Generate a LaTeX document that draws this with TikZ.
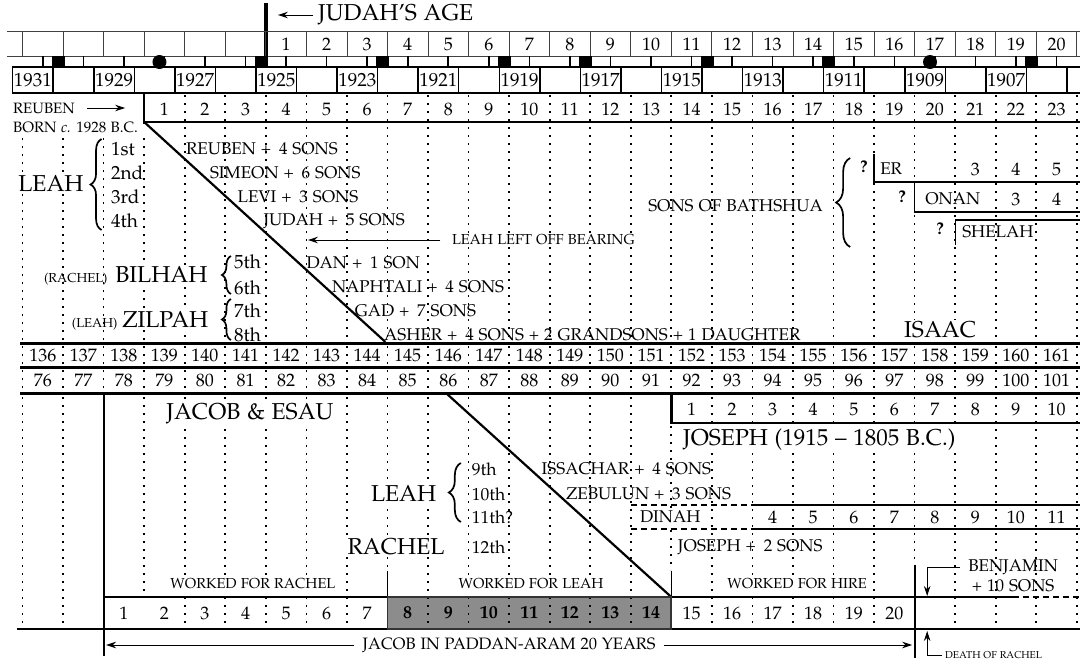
\documentclass[tikz,border=0pt]{standalone}
\usepackage[T1]{fontenc}
\usepackage[sc]{mathpazo}
\usepackage{tikz}
\usetikzlibrary{positioning,arrows.meta,decorations.pathreplacing}

\newcommand{\fs}[1]{\fontsize{#1}{#1}\selectfont}

\tikzset{
  dotcol/.style={line width=1.7pt, dash pattern=on 1.7pt off 6.3pt},
  rule/.style={line width=3pt},
  hair/.style={line width=0.8pt, black!75},
  yearbox/.style={draw, line width=1.5pt},
  arr/.style={-{Stealth[length=10pt,width=6.5pt]}, line width=0.9pt},
  num/.style={inner sep=0pt, font={\fs{18}}},
  kid/.style={inner sep=0pt, anchor=west, font={\fs{17}}},
  ord/.style={inner sep=0pt, anchor=west, font={\fs{19}}},
  big/.style={inner sep=1.5pt, fill=white, font={\fs{23}}},
  small/.style={inner sep=1.5pt, fill=white, font={\fs{14.5}}},
  query/.style={inner sep=0pt, font={\fs{17}\bfseries}},
  curly/.style={decorate, decoration={brace, amplitude=#1}, line width=1.7pt},
}

\begin{document}
\begin{tikzpicture}[x=40.55pt, y=-1pt]

    \useasboundingbox (-0.5549,0) rectangle (26.0789,664);

    % gray years (filled first, dots go over it)
    \fill[black!45] (9,597) rectangle (16,629);

    % column guides
    \foreach \k in {0,...,3}
        \draw[dotcol] (\k,138) -- (\k,341);
    \foreach \k in {4,...,26}
        \draw[dotcol] (\k,95) -- (\k,341);
    \foreach \k in {0,...,26}
        \draw[dotcol] (\k,346) -- (\k,391);
    \foreach \k in {0,1,4,5,6,7,8,10,11,12,13,14,15,17,18,19,20,21,23,24,25,26}
        \draw[dotcol] (\k,397) -- (\k,628);
    \draw[dotcol] (3,397) -- (3,595);
    \draw[dotcol] (9,397) -- (9,570);
    \draw[dotcol] (16,426) -- (16,570);
    \draw[dotcol] (22,397) -- (22,564);

    % judah's age
    \draw[line width=4.5pt] (6,3) -- (6,67);
    \node[big, fill=none, anchor=west] (judah) at (7.25,15) {JUDAH'S AGE};
    \coordinate (judahtip) at (6.3,15);
    \draw[arr] ([xshift=-3pt]judah.west) -- (judahtip);

    \draw[hair] (-0.38,31) -- (26.1,31) (-0.38,56) -- (26.1,56);
    \foreach \k in {0,...,26}
        \draw[hair] (\k,31) -- (\k,56);
    \foreach \n in {1,...,20}
        \node[num] (age\n) at (\n+5.5,44) {\n};

    % ticks, squares and moons
    \foreach \k in {0,...,25}
        \draw[line width=1.6pt] (\k+0.5,56) -- (\k+0.5,66);
    \foreach \k in {1,6,9,12,14,17,20,25}
        \fill (\k-0.276,56) rectangle (\k+0.044,67);
    \fill (3.378,62) circle (7pt);
    \fill (22.38,62) circle (7pt);

    % years b.c.
    \foreach \j in {0,...,26}
        \draw[yearbox] (\j-0.242,67) rectangle (\j+0.758,93);
    \foreach \j [evaluate=\j as \yr using int(1931-\j)] in {0,2,...,24}
        \node[inner sep=0pt, font={\fs{19}}] (yr\j) at (\j+0.258,80) {\yr};

    % reuben's age
    \node[inner sep=0pt, anchor=west, font={\fs{15}}] (reuben) at (-0.234,108) {REUBEN};
    \coordinate (reubentip) at (2.53,108);
    \draw[arr] ([xshift=12pt]reuben.east) -- (reubentip);
    \node[inner sep=0pt, anchor=west, font={\fs{15}}] (born) at (-0.234,127) {BORN \textit{c.} 1928 B.C.};
    \foreach \n in {1,...,23}
        \node[num] (rb\n) at (\n+2.5,109) {\n};
    \draw[line width=2pt] (3,93) -- (3,124);
    \draw[line width=1.2pt] (3,122) -- (26.1,122);

    % first eight sons
    \draw[line width=2.2pt] (3,122) -- (8.95,342);
    \node[big] (leah) at (0.703,184) {LEAH};
    \draw[curly=11pt] (1.95,230) -- (1.95,139);
    \node[ord] (o1) at (2.18,149) {1st};
    \node[ord] (o2) at (2.18,173) {2nd};
    \node[ord] (o3) at (2.18,197) {3rd};
    \node[ord] (o4) at (2.18,221) {4th};
    \node[kid] (reubenk) at (4.03,149) {REUBEN + \,4 SONS};
    \node[kid] (simeon) at (4.62,173) {SIMEON + \,6 SONS};
    \node[kid] (levi) at (5.30,197) {LEVI + \,3 SONS};
    \node[kid] (judahk) at (5.94,221) {JUDAH + \,5 SONS};

    \node[small, anchor=west] (leftoff) at (10.55,240) {LEAH LEFT OFF BEARING};
    \coordinate (leftofftip) at (7.04,240);
    \draw[arr] ([xshift=-10pt]leftoff.west) -- (leftofftip);

    \node[big, anchor=west] (bilhah) at (2.25,275) {BILHAH};
    \node[inner sep=0pt, anchor=base east, font={\fs{13}}] (rachelmaid) at ([xshift=-6pt]bilhah.base west) {(RACHEL)};
    \draw[curly=9pt] (5.14,294) -- (5.14,256);
    \node[ord] (o5) at (5.215,262) {5th};
    \node[ord] (o6) at (5.215,288) {6th};
    \node[kid] (dan) at (7.00,263) {DAN + \,1 SON};
    \node[kid] (naphtali) at (7.63,287) {NAPHTALI + \,4 SONS};

    \node[big, anchor=west] (zilpah) at (2.42,320) {ZILPAH};
    \node[inner sep=0pt, anchor=base east, font={\fs{13}}] (leahmaid) at ([xshift=-3pt]zilpah.base west) {(LEAH)};
    \draw[curly=9pt] (5.14,340) -- (5.14,299);
    \node[ord] (o7) at (5.215,311) {7th};
    \node[ord] (o8) at (5.215,335) {8th};
    \node[kid] (gad) at (8.19,311) {GAD + \,7 SONS};
    \node[kid] (asher) at (8.915,335) {ASHER + \,4 SONS + 2 GRANDSONS + 1 DAUGHTER};

    % sons of bathshua
    \node[kid, anchor=east] (bathshua) at (19.74,206) {SONS OF BATHSHUA};
    \draw[curly=14pt] (20.41,247) -- (20.41,158);
    \node[query] (qer) at (20.75,167) {?};
    \node[query] (qonan) at (21.69,197) {?};
    \node[query] (qshelah) at (22.63,229) {?};
    \draw[line width=1.2pt] (21,154) -- (21,182) -- (26.1,182);
    \draw[line width=1.2pt] (22,185) -- (22,212) -- (26.1,212);
    \draw[line width=1.2pt] (26.1,220) -- (23,220) -- (23,245);
    \node[kid] (er) at (21.15,169) {ER};
    \node[kid] (onan) at (22.26,199) {ONAN};
    \node[kid] (shelah) at (23.17,232) {SHELAH};
    \foreach \n in {3,4,5}
        \node[num] (er\n) at (\n+20.5,169) {\n};
    \foreach \n in {3,4}
        \node[num] (onan\n) at (\n+21.5,199) {\n};

    \node[big] (isaac) at (22.63,330) {ISAAC};

    % isaac's and jacob's ages
    \foreach \y in {343,367,393}
        \draw[rule] (-0.06,\y) -- (26.1,\y);
    \foreach \n in {136,...,161}
        \node[num] (is\n) at (\n-135.5,355) {\n};
    \foreach \n in {76,...,101}
        \node[num] (ja\n) at (\n-75.5,380) {\n};

    \node[big] (jacob) at (5.61,414) {JACOB \& ESAU};
    \draw[line width=2pt] (2,393) -- (2,656);

    % joseph
    \draw[line width=2.6pt] (16,393) -- (16,423) -- (26.1,423);
    \foreach \n in {1,...,10}
        \node[num] (jo\n) at (\n+15.5,409) {\n};
    \node[big, anchor=west] (joseph) at (16.25,440) {JOSEPH (1915 -- 1805 B.C.)};

    % last sons
    \draw[line width=2.2pt] (10.47,394) -- (16,597);
    \node[big] (leahb) at (9.40,494) {LEAH};
    \draw[curly=12pt] (10.81,522) -- (10.81,463);
    \node[big] (rachel) at (9.21,547) {RACHEL};
    \node[ord, font={\fs{17.5}}] (o9) at (11.08,469) {9th};
    \node[ord, font={\fs{17.5}}] (o10) at (11.08,494) {10th};
    \node[ord, font={\fs{17.5}}] (o11) at (11.08,517) {11th?};
    \node[ord, font={\fs{17.5}}] (o12) at (11.08,547) {12th};
    \node[kid] (issachar) at (12.80,469) {ISSACHAR + \,4 SONS};
    \node[kid] (zebulun) at (13.40,494) {ZEBULUN + \,3 SONS};
    \node[kid, fill=white, inner sep=1pt] (dinah) at (15.2,517) {DINAH};
    \draw[line width=1.1pt, dash pattern=on 6pt off 4pt] (15,505) -- (18,505) (15,529) -- (18,529);
    \draw[line width=1.1pt] (18,505) -- (26.1,505) (18,529) -- (26.1,529);
    \foreach \n in {4,...,11}
        \node[num] (di\n) at (\n+14.5,517) {\n};
    \node[kid] (josephk) at (16.16,547) {JOSEPH + \,2 SONS};

    \node[inner sep=0pt, font={\fs{17}}] (benjamin) at (24.43,567) {BENJAMIN};
    \node[inner sep=0pt, font={\fs{17}}, below=5pt of benjamin] (benjsons) {+ 10 SONS};
    \coordinate (benjtip) at (22.31,596);
    \draw[arr] ([xshift=-8pt]benjamin.west) -| (benjtip);

    % twenty years with laban
    \node[small] (wrachel) at (5.68,584) {WORKED FOR RACHEL};
    \node[small] (wleah) at (12.54,584) {WORKED FOR LEAH};
    \node[small] (whire) at (19.10,584) {WORKED FOR HIRE};
    \draw[line width=1pt] (9,571) -- (9,597) (16,571) -- (16,597);
    \draw[line width=1.2pt] (2,597) -- (24.42,597);
    \draw[line width=1.2pt, dash pattern=on 6pt off 4pt] (24.42,597) -- (26.1,597);
    \draw[line width=1.2pt] (-0.136,629) -- (26.1,629);
    \draw[line width=1.8pt, black!80] (9,597) rectangle (16,629);
    \foreach \n in {1,...,7,15,16,...,20}
        \node[num] (yr\n) at (\n+1.5,613) {\n};
    \foreach \n in {8,...,14}
        \node[num, font={\fs{18}\bfseries}] (yr\n) at (\n+1.5,613) {\n};

    \draw[line width=2pt] (22,565) -- (22,658);
    \node[inner sep=0pt, font={\fs{16.5}}] (paddan) at (12.0,645) {JACOB IN PADDAN-ARAM 20 YEARS};
    \coordinate (paddanl) at (2.06,645);
    \coordinate (paddanr) at (21.94,645);
    \draw[arr] ([xshift=-8pt]paddan.west) -- (paddanl);
    \draw[arr] ([xshift=8pt]paddan.east) -- (paddanr);

    \node[inner sep=0pt, anchor=west, font={\fs{10}}] (death) at (22.75,655) {DEATH OF RACHEL};
    \coordinate (deathtip) at (22.31,631);
    \draw[arr] ([xshift=-3pt]death.west) -| (deathtip);

\end{tikzpicture}
\end{document}
